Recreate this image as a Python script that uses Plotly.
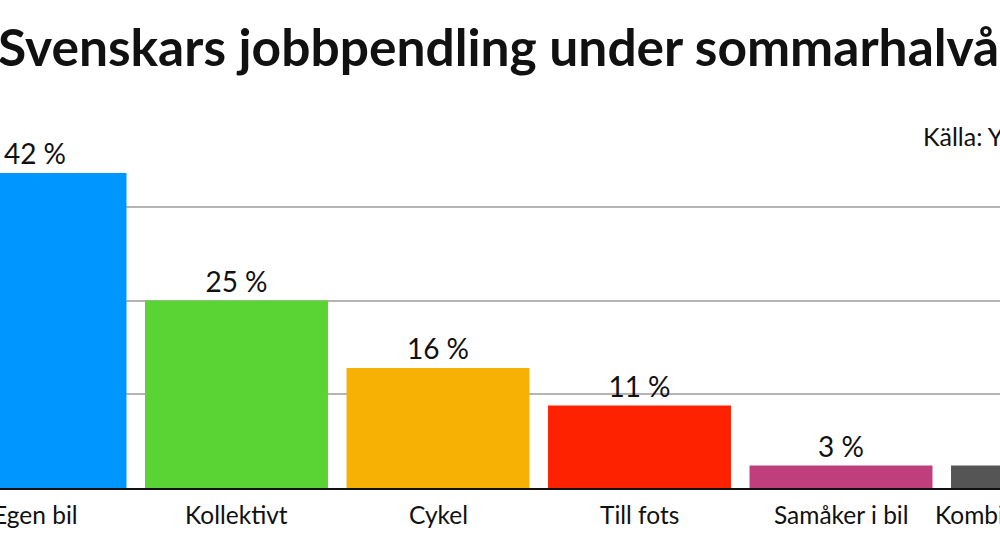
import plotly.graph_objects as go

categories = ["Egen bil", "Kollektivt", "Cykel", "Till fots", "Samåker i bil", "Kombinerat resande"]
values = [42, 25, 16, 11, 3, 3]
colors = ["#0096ff", "#5ad334", "#f7b104", "#ff2200", "#bf3f7c", "#555555"]
title_text = "Svenskars jobbpendling under sommarhalvåret"
source_text = "Källa: YouGov"
grid_vals = [0, 12.5, 25, 37.5, 50]

W, H = 1200, 558
L, R, T, B = 0, 0, 113, 70
px_per_cat = 201.5
x0 = -35 / px_per_cat

fig = go.Figure(go.Bar(
    x=list(range(len(categories))),
    y=values,
    marker=dict(color=colors, line=dict(width=0)),
    text=[f"{v} %" for v in values],
    textposition="outside",
    textfont=dict(family="Lato", size=28, color="#111111"),
    cliponaxis=False,
    width=0.908,
))

annotations = [
    dict(text=f"<b>{title_text}</b>", xref="paper", yref="paper",
         x=-0.0033, y=1, xanchor="left", yanchor="bottom", yshift=34,
         showarrow=False, font=dict(family="Lato", size=51.5, color="#111111", weight=900)),
    dict(text=source_text, xref="paper", yref="paper",
         x=921 / W, y=1, xanchor="left", yanchor="top", yshift=-6,
         showarrow=False, font=dict(family="Lato", size=25, color="#111111")),
]
for i, c in enumerate(categories):
    annotations.append(dict(
        text=c, xref="x", yref="paper", x=i, y=0,
        xanchor="center", yanchor="top", yshift=-10,
        showarrow=False, font=dict(family="Lato", size=24.5, color="#111111"),
    ))

fig.update_layout(
    width=W, height=H,
    margin=dict(l=L, r=R, t=T, b=B),
    paper_bgcolor="white", plot_bgcolor="white",
    showlegend=False,
    font=dict(family="Lato", color="#111111"),
    xaxis=dict(
        range=[x0, x0 + W / px_per_cat],
        showticklabels=False,
        showgrid=False, zeroline=False,
        showline=True, linecolor="#111111", linewidth=2,
        ticks="",
    ),
    yaxis=dict(
        range=[0, 50],
        tickmode="array", tickvals=grid_vals,
        showticklabels=False,
        showgrid=True, gridcolor="#b4b4b4", gridwidth=2,
        zeroline=False, showline=False,
    ),
    annotations=annotations,
)

fig.write_html(
    "out.html",
    config={"displayModeBar": False},
    post_script="document.body.style.margin='0';document.body.style.overflow='hidden';",
)
